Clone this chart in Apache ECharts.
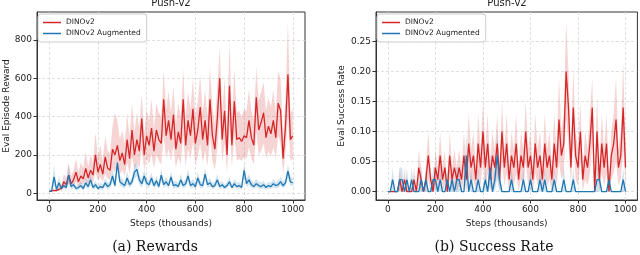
<!DOCTYPE html>
<html><head><meta charset="utf-8">
<script src="https://cdn.jsdelivr.net/npm/echarts@6/dist/echarts.min.js"></script>
<style>html,body{margin:0;padding:0;background:#fff}#c{width:640px;height:255px}</style>
</head><body><div id="c"></div>
<script>
const steps = [0,10,20,30,40,50,60,70,80,90,100,110,120,130,140,150,160,170,180,190,200,210,220,230,240,250,260,270,280,290,300,310,320,330,340,350,360,370,380,390,400,410,420,430,440,450,460,470,480,490,500,510,520,530,540,550,560,570,580,590,600,610,620,630,640,650,660,670,680,690,700,710,720,730,740,750,760,770,780,790,800,810,820,830,840,850,860,870,880,890,900,910,920,930,940,950,960,970,980,990,1000];
const xTicks = [0,200,400,600,800,1000];
const rewardTicks = [0,200,400,600,800];
const successTicks = [0,0.05,0.10,0.15,0.20,0.25];

const rewardRedMean = [10,12,15,14,20,25,60,45,95,50,
70,110,60,90,75,130,80,120,95,200,
110,150,100,190,130,120,230,200,250,170,
210,150,280,180,330,200,280,220,390,200,
300,250,340,220,330,280,260,490,300,380,
280,410,230,320,260,490,250,380,300,440,
260,330,450,280,380,250,490,300,230,390,
600,280,430,200,560,250,480,280,290,270,
300,290,380,290,250,500,330,370,420,290,
350,310,380,290,470,430,180,350,620,280,
300];
const rewardRedUpper = [12,15,20,20,30,40,100,80,160,90,
120,180,110,160,130,220,140,200,160,320,
190,250,170,300,220,210,350,420,380,280,
330,260,420,290,470,320,420,340,520,310,
440,380,490,340,470,420,400,640,440,530,
420,560,360,470,400,650,390,530,440,600,
400,480,620,420,540,390,660,450,360,560,
760,420,600,330,800,390,650,420,430,400,
440,430,540,430,380,660,480,530,580,430,
500,450,540,420,640,600,290,500,900,420,
440];
const rewardRedLower = [8,9,10,10,12,15,30,25,50,30,
40,60,35,50,45,70,50,70,55,110,
65,85,60,100,75,70,130,110,140,100,
120,90,160,100,190,120,160,130,230,120,
180,150,200,130,200,170,150,300,180,230,
170,250,130,190,150,300,140,230,180,270,
150,190,260,160,220,140,300,170,120,230,
400,160,260,110,350,140,300,170,180,170,
190,180,240,180,150,320,200,220,260,180,
220,190,240,180,300,260,100,210,400,170,
180];
const rewardBlueMean = [10,12,85,20,55,25,40,30,95,35,
45,25,30,40,25,55,35,70,30,45,
25,35,30,55,35,45,90,40,160,60,
50,40,80,45,60,110,125,70,50,90,
55,45,80,40,65,35,95,45,60,40,
85,40,45,35,70,40,50,90,40,50,
35,80,45,40,100,45,55,35,40,70,
35,45,30,40,60,30,50,35,40,30,
120,50,70,45,35,50,40,35,45,30,
40,35,50,40,45,60,40,55,115,60,
55];
const rewardBlueUpper = [12,15,150,30,90,40,60,50,150,55,
65,40,45,60,40,80,55,100,45,65,
40,55,45,80,55,65,130,60,170,90,
75,60,115,65,85,150,160,100,75,125,
80,65,110,60,90,55,130,65,85,60,
115,60,65,55,100,60,75,125,60,75,
55,110,65,60,135,65,80,55,60,100,
55,65,45,60,85,45,75,55,60,45,
155,75,100,65,55,75,60,55,65,45,
60,55,75,60,65,85,60,80,150,90,
80];
const rewardBlueLower = [8,9,40,12,30,15,25,18,55,20,
28,15,18,25,15,35,20,45,18,28,
15,20,18,35,20,28,60,25,110,40,
30,25,50,28,40,75,90,45,30,60,
35,28,55,25,42,22,65,28,40,25,
58,25,28,22,45,25,32,60,25,32,
22,55,28,25,70,28,35,22,25,45,
22,28,18,25,40,18,32,22,25,18,
85,32,45,28,22,32,25,22,28,18,
25,22,32,25,28,40,25,35,80,40,
35];

const successRedMean = [0,0,0,0,0,0.02,0,0.02,0,0,
0,0.02,0,0.04,0.02,0,0.02,0.06,0.02,0,
0.04,0.02,0.06,0.02,0.04,0,0.06,0.02,0.04,0.02,
0.04,0.02,0.06,0.02,0.08,0.04,0.06,0.02,0.08,0.04,
0.10,0.04,0.08,0.02,0.06,0.04,0.08,0.02,0.10,0.04,
0.08,0.02,0.06,0.04,0.08,0.02,0.06,0.04,0.10,0.04,
0.06,0.02,0.08,0.04,0.06,0.02,0.08,0.04,0.06,0.02,
0.08,0.04,0.12,0.06,0.08,0.20,0.14,0.04,0.14,0.06,
0.04,0.10,0.02,0.06,0.04,0.08,0.14,0,0.10,0.02,
0.08,0.04,0.08,0,0.06,0.08,0.12,0.04,0.06,0.14,
0.04];
const successRedUpper = [0,0,0,0,0,0.04,0,0.04,0,0,
0,0.04,0,0.07,0.04,0,0.04,0.1,0.04,0,
0.07,0.04,0.1,0.04,0.07,0,0.1,0.04,0.07,0.04,
0.07,0.04,0.1,0.04,0.13,0.07,0.1,0.04,0.13,0.07,
0.15,0.07,0.13,0.04,0.1,0.07,0.13,0.04,0.15,0.07,
0.13,0.04,0.1,0.07,0.13,0.04,0.1,0.07,0.15,0.07,
0.1,0.04,0.13,0.07,0.1,0.04,0.13,0.07,0.1,0.04,
0.13,0.07,0.19,0.1,0.13,0.285,0.2,0.07,0.205,0.1,
0.07,0.15,0.04,0.1,0.07,0.13,0.19,0.02,0.16,0.04,
0.13,0.07,0.13,0.02,0.1,0.13,0.19,0.07,0.1,0.215,
0.07];
const successRedLower = [0,0,0,0,0,0,0,0,0,0,
0,0,0,0.01,0,0,0,0.02,0,0,
0.01,0,0.02,0,0.01,0,0.02,0,0.01,0,
0.01,0,0.02,0,0.03,0.01,0.02,0,0.03,0.01,
0.05,0.01,0.03,0,0.02,0.01,0.03,0,0.05,0.01,
0.03,0,0.02,0.01,0.03,0,0.02,0.01,0.05,0.01,
0.02,0,0.03,0.01,0.02,0,0.03,0.01,0.02,0,
0.03,0.01,0.05,0.02,0.03,0.12,0.08,0.01,0.08,0.02,
0.01,0.05,0,0.02,0.01,0.03,0.08,0,0.04,0,
0.03,0.01,0.03,0,0.02,0.03,0.05,0.01,0.02,0.07,
0.01];
const successBlueMean = [0,0,0.02,0,0,0.02,0.02,0,0.02,0,
0.02,0,0,0,0.02,0,0.02,0,0,0.02,
0.02,0,0.02,0,0,0.02,0,0.02,0,0.02,
0.02,0,0,0.06,0,0.02,0,0,0.02,0,
0,0.02,0,0.04,0,0.02,0.06,0.02,0,0,
0,0,0.02,0,0,0,0,0.02,0,0,
0.02,0,0,0,0.02,0,0.02,0,0,0,
0.02,0,0,0,0.02,0,0,0,0.02,0,
0,0,0,0,0,0,0,0,0.02,0.02,
0,0,0,0.02,0,0,0,0,0,0.02,
0];
const successBlueUpper = [0,0,0.04,0,0,0.04,0.04,0,0.04,0,
0.04,0,0,0,0.04,0,0.04,0,0,0.04,
0.04,0,0.04,0,0,0.04,0,0.04,0,0.04,
0.04,0,0,0.1,0,0.04,0,0,0.04,0,
0,0.04,0,0.07,0,0.04,0.1,0.04,0,0,
0,0,0.04,0,0,0,0,0.04,0,0,
0.04,0,0,0,0.04,0,0.04,0,0,0,
0.04,0,0,0,0.04,0,0,0,0.04,0,
0,0,0,0,0,0,0,0,0.04,0.04,
0,0,0,0.04,0,0,0,0,0,0.04,
0];
const successBlueLower = [0,0,0,0,0,0,0,0,0,0,
0,0,0,0,0,0,0,0,0,0,
0,0,0,0,0,0,0,0,0,0,
0,0,0,0.02,0,0,0,0,0,0,
0,0,0,0.01,0,0,0.02,0,0,0,
0,0,0,0,0,0,0,0,0,0,
0,0,0,0,0,0,0,0,0,0,
0,0,0,0,0,0,0,0,0,0,
0,0,0,0,0,0,0,0,0,0,
0,0,0,0,0,0,0,0,0,0,
0];

const RED = '#d62728', BLUE = '#1f77b4';
const FONT = 'DejaVu Sans';
const TXT = '#222';

const grids = [
  {left:37, top:12, width:268, height:188},
  {left:376, top:12, width:263, height:188}
];

function xAxis(gi){
  return {
    type:'value', gridIndex:gi, min:-50, max:1050,
    axisLine:{show:true, onZero:false, lineStyle:{color:'#333', width:1}},
    axisTick:{show:true, length:3.5, customValues:xTicks, lineStyle:{color:'#333'}},
    axisLabel:{customValues:xTicks, margin:5, fontSize:9, color:TXT, fontFamily:FONT, formatter:v=>String(v)},
    splitLine:{show:true, lineStyle:{color:'#d8d8d8', type:[3,2], width:0.8}},
    name:'Steps (thousands)', nameLocation:'middle', nameGap:15,
    nameTextStyle:{fontSize:9, color:TXT, fontFamily:FONT}
  };
}
function yAxis(gi, min, max, ticks, name, gap, fmt){
  return {
    type:'value', gridIndex:gi, min:min, max:max,
    axisLine:{show:true, onZero:false, lineStyle:{color:'#333', width:1}},
    axisTick:{show:true, length:3.5, customValues:ticks, lineStyle:{color:'#333'}},
    axisLabel:{customValues:ticks, margin:5, fontSize:9, color:TXT, fontFamily:FONT, formatter:fmt},
    splitLine:{show:true, lineStyle:{color:'#d8d8d8', type:[3,2], width:0.8}},
    name:name, nameLocation:'middle', nameGap:gap, nameRotate:90,
    nameTextStyle:{fontSize:9, color:TXT, fontFamily:FONT}
  };
}
function pairs(arr){ return steps.map((s,i)=>[s, arr[i]]); }
function bandSeries(gi, lower, upper, color){
  return {
    type:'custom', xAxisIndex:gi, yAxisIndex:gi, data:[[0,0]], silent:true, z:2,
    renderItem:(params, api)=>{
      const pts = [];
      for (let i=0;i<steps.length;i++) pts.push(api.coord([steps[i], upper[i]]));
      for (let i=steps.length-1;i>=0;i--) pts.push(api.coord([steps[i], lower[i]]));
      return {type:'polygon', shape:{points:pts}, style:{fill:color, opacity:0.2}};
    }
  };
}
function lineSeries(gi, name, data, color){
  return {type:'line', name:name, xAxisIndex:gi, yAxisIndex:gi, data:pairs(data), color:color,
    symbol:'none', lineStyle:{width:1.3, color:color}, z:2};
}
function legend(left){
  return {show:true, orient:'vertical', left:left, top:14, data:['DINOv2','DINOv2 Augmented'],
    icon:'rect', itemWidth:18, itemHeight:1.5, itemGap:2, padding:[4,6,4,5],
    borderColor:'#ccc', borderWidth:1, borderRadius:3, backgroundColor:'rgba(255,255,255,0.85)',
    selectedMode:false, z:10,
    textStyle:{fontSize:7.5, color:TXT, fontFamily:FONT, lineHeight:9}};
}

const option = {
  animation:false,
  grid: grids.map(g=>Object.assign({show:true, borderColor:'#333', borderWidth:1, backgroundColor:'transparent'}, g)),
  xAxis:[xAxis(0), xAxis(1)],
  yAxis:[
    yAxis(0, -35, 945, rewardTicks, 'Eval Episode Reward', 26, v=>String(v)),
    yAxis(1, -0.014, 0.299, successTicks, 'Eval Success Rate', 30, v=>v.toFixed(2))
  ],
  legend:[legend(38), legend(377)],
  series:[
    bandSeries(0, rewardRedLower, rewardRedUpper, RED),
    lineSeries(0, 'DINOv2', rewardRedMean, RED),
    bandSeries(0, rewardBlueLower, rewardBlueUpper, BLUE),
    lineSeries(0, 'DINOv2 Augmented', rewardBlueMean, BLUE),
    bandSeries(1, successRedLower, successRedUpper, RED),
    lineSeries(1, 'DINOv2', successRedMean, RED),
    bandSeries(1, successBlueLower, successBlueUpper, BLUE),
    lineSeries(1, 'DINOv2 Augmented', successBlueMean, BLUE)
  ],
  graphic:[
    {type:'text', x:171, y:8, style:{text:'Push-v2', align:'center', verticalAlign:'bottom', fontSize:10, fontFamily:FONT, fill:TXT}},
    {type:'text', x:507, y:8, style:{text:'Push-v2', align:'center', verticalAlign:'bottom', fontSize:10, fontFamily:FONT, fill:TXT}},
    {type:'text', x:155, y:247, style:{text:'(a) Rewards', align:'center', verticalAlign:'middle', fontSize:14, fontFamily:'DejaVu Serif', fill:'#111'}},
    {type:'text', x:494, y:247, style:{text:'(b) Success Rate', align:'center', verticalAlign:'middle', fontSize:14, fontFamily:'DejaVu Serif', fill:'#111'}}
  ]
};
const chart = echarts.init(document.getElementById('c'), null, {renderer:'canvas'});
chart.setOption(option);
</script></body></html>
